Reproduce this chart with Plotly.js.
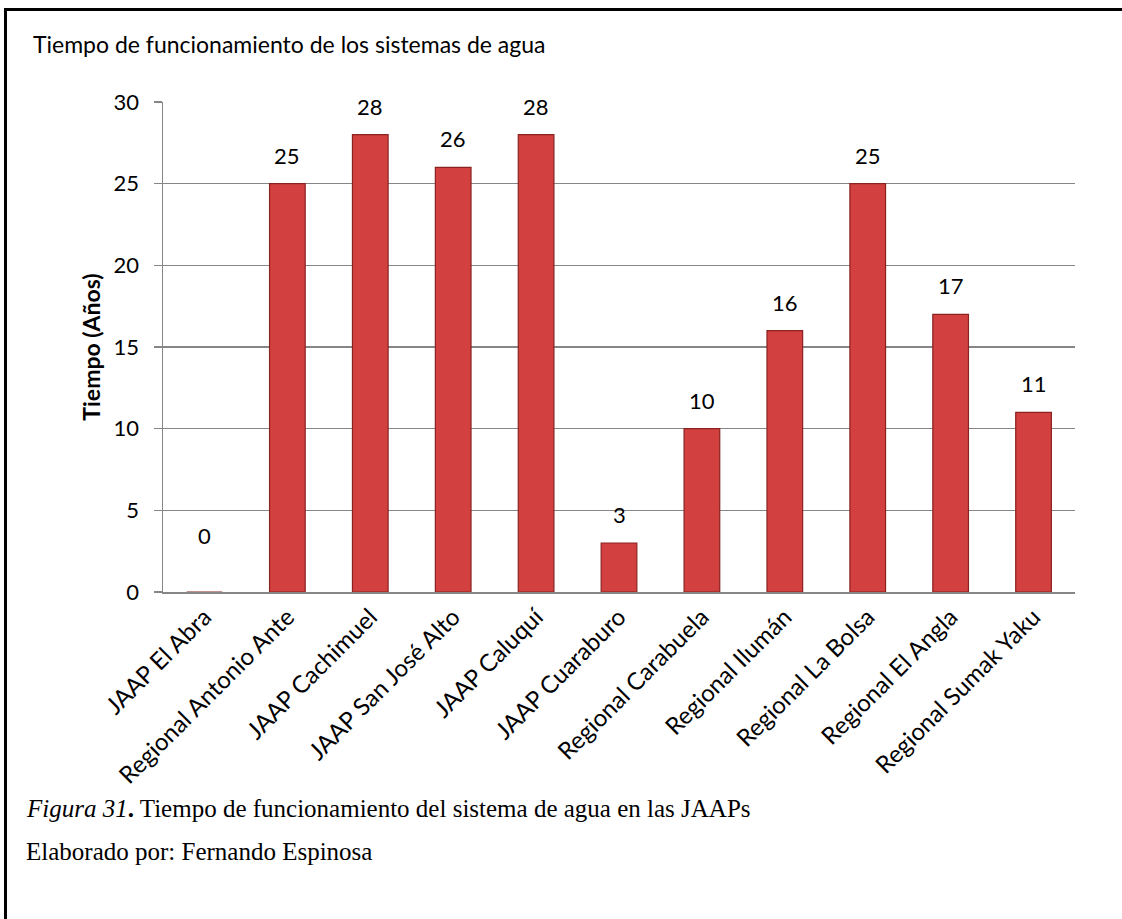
<!DOCTYPE html>
<html>
<head>
<meta charset="utf-8">
<script src="https://cdn.plot.ly/plotly-3.0.1.min.js"></script>
<style>
  html, body { margin: 0; padding: 0; background: #fff; }
  #chart { width: 1122px; height: 919px; position: relative; }
  #frame { position: absolute; left: 4px; top: 8px; width: 1200px; height: 1000px;
           border-top: 3px solid #000; border-left: 3px solid #000; pointer-events: none; }
</style>
</head>
<body>
<div id="chart"></div>
<div id="frame"></div>
<script>
const categories = [
  "JAAP El Abra", "Regional Antonio Ante", "JAAP Cachimuel", "JAAP San José Alto",
  "JAAP Caluquí", "JAAP Cuaraburo", "Regional Carabuela", "Regional Ilumán",
  "Regional La Bolsa", "Regional El Angla", "Regional Sumak Yaku"
];
const years = [0, 25, 28, 26, 28, 3, 10, 16, 25, 17, 11];
const yTicks = [0, 5, 10, 15, 20, 25, 30];

const chartFont = "Lato, 'Open Sans', sans-serif";
const serifFont = "'Liberation Serif', 'Times New Roman', serif";

const bars = {
  type: "bar",
  x: categories,
  y: years,
  marker: { color: "#D2403F", line: { color: "#8A2222", width: 1.2 } },
  hoverinfo: "x+y"
};

const labelAnnotations = categories.map((c, i) => ({
  x: c, y: years[i], xref: "x", yref: "y",
  text: String(years[i]), showarrow: false,
  yanchor: "bottom", yshift: years[i] === 0 ? 41 : 13,
  font: { family: chartFont, size: 22, color: "#000" }
}));

const layout = {
  width: 1122, height: 919,
  margin: { l: 163, r: 47, t: 102, b: 327 },
  paper_bgcolor: "#fff", plot_bgcolor: "#fff",
  showlegend: false,
  bargap: 0.57,
  font: { family: chartFont, color: "#000" },
  title: {
    text: "Tiempo de funcionamiento de los sistemas de agua",
    x: 33 / 1122, xanchor: "left", xref: "container",
    y: 1 - 45 / 919, yanchor: "middle", yref: "container",
    font: { family: chartFont, size: 23, color: "#000" }
  },
  xaxis: {
    type: "category",
    tickangle: -45,
    tickfont: { family: chartFont, size: 24, color: "#000" },
    showline: true, linecolor: "#868686", linewidth: 1.5,
    ticks: "", showgrid: false, zeroline: false
  },
  yaxis: {
    range: [0, 30],
    tickvals: yTicks,
    ticks: "outside", ticklen: 8, tickcolor: "#868686", tickwidth: 1.5,
    ticklabelstandoff: 10,
    tickfont: { family: chartFont, size: 22, color: "#000" },
    showline: true, linecolor: "#868686", linewidth: 1.5,
    showgrid: true, gridcolor: "#868686", gridwidth: 1.5,
    zeroline: false,
    title: { text: "<b>Tiempo (Años)</b>", standoff: 6,
             font: { family: chartFont, size: 23, color: "#000" } }
  },
  annotations: labelAnnotations.concat([
    {
      xref: "paper", yref: "paper",
      x: -139 / 912, y: -(808 - 592) / 490,
      xanchor: "left", yanchor: "middle", showarrow: false, align: "left",
      text: "<i><span style='font-size:25px'>Figura 31</span></i><b style='font-size:25px'>.</b> Tiempo de funcionamiento del sistema de agua en las JAAPs",
      font: { family: serifFont, size: 25, color: "#000" }
    },
    {
      xref: "paper", yref: "paper",
      x: -139 / 912, y: -(851 - 592) / 490,
      xanchor: "left", yanchor: "middle", showarrow: false, align: "left",
      text: "Elaborado por: Fernando Espinosa",
      font: { family: serifFont, size: 25, color: "#000" }
    }
  ])
};

Plotly.newPlot("chart", [bars], layout, { displayModeBar: false, staticPlot: true });
</script>
</body>
</html>
